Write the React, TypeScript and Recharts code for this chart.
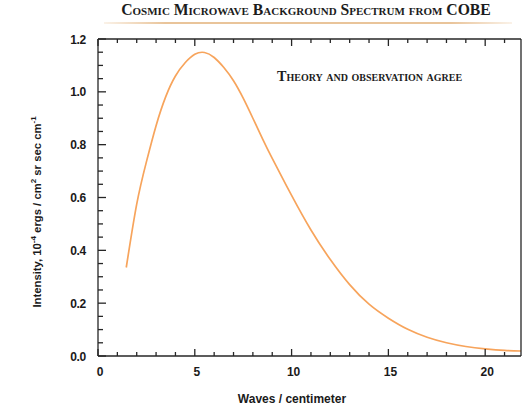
import React from "react";
import { LineChart, Line, XAxis, YAxis } from "recharts";

// ─── Data ─────────────────────────────────────────────────────────────────────

const waveNumbers = [
  1.46, 2, 2.5, 3, 3.5, 4, 4.5, 5, 5.5, 6, 6.5, 7, 7.5, 8, 8.5, 9, 10, 11, 12,
  13, 14, 15, 16, 17, 18, 19, 20, 21, 21.85,
];
const intensity = [
  0.335, 0.575, 0.735, 0.872, 0.982, 1.06, 1.11, 1.142, 1.149, 1.13, 1.092,
  1.042, 0.976, 0.9, 0.822, 0.748, 0.608, 0.477, 0.365, 0.27, 0.196, 0.143,
  0.101, 0.071, 0.05, 0.036, 0.027, 0.021, 0.019,
];

const xTicks = [
  0, 1, 2, 3, 4, 5, 6, 7, 8, 9, 10, 11, 12, 13, 14, 15, 16, 17, 18, 19, 20, 21,
];
const yTicks = [
  0, 0.05, 0.1, 0.15, 0.2, 0.25, 0.3, 0.35, 0.4, 0.45, 0.5, 0.55, 0.6, 0.65,
  0.7, 0.75, 0.8, 0.85, 0.9, 0.95, 1.0, 1.05, 1.1, 1.15, 1.2,
];

const data = waveNumbers.map((w, i) => ({ w, v: intensity[i] }));

// ─── Style ────────────────────────────────────────────────────────────────────

const AXIS = "#262626";
const CURVE = "#f7a45c";
const SANS = "'Liberation Sans', Arial, sans-serif";
const SERIF = "'Liberation Serif', 'Times New Roman', serif";

const isMajorY = (v: number) => Math.abs(v * 5 - Math.round(v * 5)) < 1e-6;

// ─── Ticks ────────────────────────────────────────────────────────────────────

function BottomTick({ x, y, payload }: any) {
  const major = payload.value % 5 === 0;
  return (
    <g>
      <line x1={x} x2={x} y1={y} y2={y - (major ? 7 : 4)} stroke={AXIS} strokeWidth={1.3} />
      {major && (
        <text x={x + 2} y={y + 20} textAnchor="middle" fontFamily={SANS} fontWeight="bold" fontSize={12} fill="#1a1a1a">
          {payload.value}
        </text>
      )}
    </g>
  );
}

function TopTick({ x, y, payload }: any) {
  const major = payload.value % 5 === 0;
  return <line x1={x} x2={x} y1={y} y2={y + (major ? 7 : 4)} stroke={AXIS} strokeWidth={1.3} />;
}

function LeftTick({ x, y, payload }: any) {
  const major = isMajorY(payload.value);
  return (
    <g>
      <line x1={x} x2={x + (major ? 8 : 5)} y1={y} y2={y} stroke={AXIS} strokeWidth={1.3} />
      {major && (
        <text x={x - 12} y={y + 4.5} textAnchor="end" fontFamily={SANS} fontWeight="bold" fontSize={12} letterSpacing={-0.3} fill="#1a1a1a">
          {payload.value.toFixed(1)}
        </text>
      )}
    </g>
  );
}

function RightTick({ x, y, payload }: any) {
  const major = isMajorY(payload.value);
  return <line x1={x} x2={x - (major ? 8 : 5)} y1={y} y2={y} stroke={AXIS} strokeWidth={1.3} />;
}

// ─── Component ────────────────────────────────────────────────────────────────

export default function App() {
  return (
    <div style={{ position: "absolute", left: 0, top: 0, width: 522, height: 406, background: "#fff" }}>
      {/* title */}
      <div
        style={{
          position: "absolute", left: 0, width: 612, top: 1, textAlign: "center",
          fontFamily: SERIF, fontWeight: "bold", fontSize: 15.7, fontVariant: "small-caps",
          color: "#1c1c1c", whiteSpace: "nowrap",
        }}
      >
        Cosmic Microwave Background Spectrum from COBE
      </div>
      <div
        style={{
          position: "absolute", left: 104, width: 408, top: 22, height: 1.5,
          background: "linear-gradient(to right, rgba(232,190,140,0.2), #e9c49a 15%, #e9c49a 85%, rgba(232,190,140,0.2))",
        }}
      />

      <LineChart width={522} height={406} data={data} margin={{ top: 38, right: 0, left: 0, bottom: 0 }}>
        <XAxis
          dataKey="w" type="number" domain={[0, 21.85]} ticks={xTicks} interval={0}
          height={50} tickSize={0} tickMargin={0} tickLine={false}
          axisLine={{ stroke: AXIS, strokeWidth: 1.3 }} tick={<BottomTick />}
        />
        <XAxis
          xAxisId="top" orientation="top" dataKey="w" type="number" domain={[0, 21.85]} ticks={xTicks}
          interval={0} height={1} tickSize={0} tickMargin={0} tickLine={false}
          axisLine={{ stroke: AXIS, strokeWidth: 1.3 }} tick={<TopTick />}
        />
        <YAxis
          type="number" domain={[0, 1.2]} ticks={yTicks} interval={0} width={98}
          tickSize={0} tickMargin={0} tickLine={false}
          axisLine={{ stroke: AXIS, strokeWidth: 1.3 }} tick={<LeftTick />}
        />
        <YAxis
          yAxisId="right" orientation="right" type="number" domain={[0, 1.2]} ticks={yTicks}
          interval={0} width={1} tickSize={0} tickMargin={0} tickLine={false}
          axisLine={{ stroke: AXIS, strokeWidth: 1.3 }} tick={<RightTick />}
        />
        <Line
          type="natural" dataKey="v" stroke={CURVE} strokeWidth={1.7}
          dot={false} activeDot={false} isAnimationActive={false}
        />
      </LineChart>

      {/* annotation */}
      <div
        style={{
          position: "absolute", left: 277, top: 68, fontFamily: SERIF, fontWeight: "bold",
          fontSize: 14.2, fontVariant: "small-caps", color: "#1c1c1c", whiteSpace: "nowrap",
        }}
      >
        Theory and observation agree
      </div>

      {/* y axis label */}
      <div
        style={{
          position: "absolute", left: 37 - 140, top: 212 - 7, width: 280, height: 14,
          transform: "rotate(-90deg)", transformOrigin: "center", textAlign: "center",
          fontFamily: SANS, fontWeight: "bold", fontSize: 11.3, lineHeight: "14px",
          color: "#1a1a1a", whiteSpace: "nowrap",
        }}
      >
        Intensity, 10<sup style={{ fontSize: 8, lineHeight: 0 }}>-4</sup> ergs / cm
        <sup style={{ fontSize: 8, lineHeight: 0 }}>2</sup> sr sec cm
        <sup style={{ fontSize: 8, lineHeight: 0 }}>-1</sup>
      </div>

      {/* x axis label */}
      <div
        style={{
          position: "absolute", left: 192, width: 200, top: 392, textAlign: "center",
          fontFamily: SANS, fontWeight: "bold", fontSize: 12, color: "#1a1a1a", whiteSpace: "nowrap",
        }}
      >
        Waves / centimeter
      </div>
    </div>
  );
}
